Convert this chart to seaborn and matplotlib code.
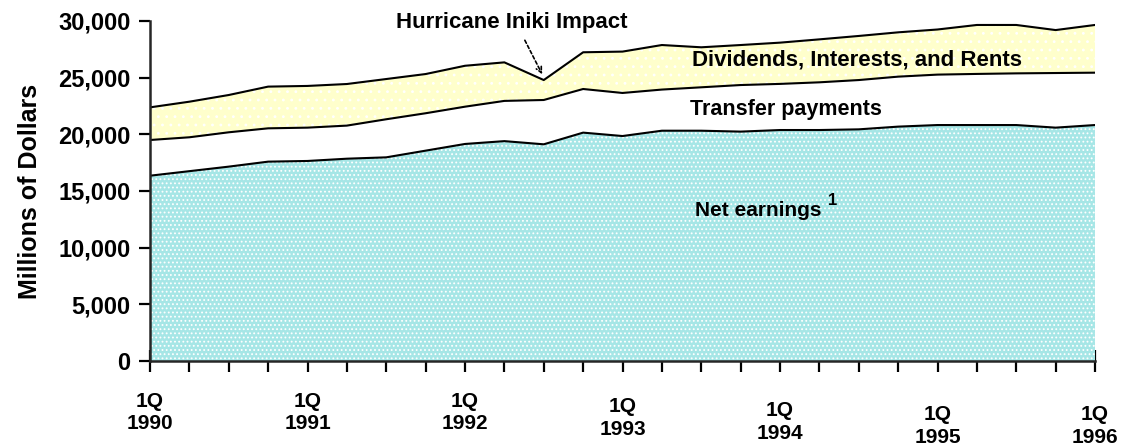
import pandas as pd
import matplotlib
matplotlib.use("Agg")
import matplotlib.pyplot as plt
import seaborn as sns

# --- Quarterly personal income components, 1Q1990 .. 1Q1996 (millions of dollars) ---
quarters = ["1Q90", "2Q90", "3Q90", "4Q90", "1Q91", "2Q91", "3Q91", "4Q91",
            "1Q92", "2Q92", "3Q92", "4Q92", "1Q93", "2Q93", "3Q93", "4Q93",
            "1Q94", "2Q94", "3Q94", "4Q94", "1Q95", "2Q95", "3Q95", "4Q95", "1Q96"]
net_earnings = [16350, 16750, 17150, 17590, 17650, 17850, 17970, 18560,
                19150, 19400, 19120, 20150, 19850, 20320, 20320, 20240,
                20380, 20380, 20440, 20680, 20820, 20820, 20820, 20590, 20820]
transfer_payments = [3150, 2990, 3030, 2940, 2940, 2920, 3360, 3300,
                     3290, 3550, 3910, 3850, 3800, 3630, 3830, 4110,
                     4070, 4210, 4350, 4410, 4450, 4510, 4560, 4820, 4620]
dividends = [2880, 3140, 3290, 3680, 3680, 3670, 3550, 3460,
             3610, 3400, 1760, 3240, 3650, 3930, 3530, 3530,
             3640, 3790, 3890, 3910, 3980, 4320, 4270, 3790, 4210]

year_labels = ["1Q\n1990", "1Q\n1991", "1Q\n1992", "1Q\n1993",
               "1Q\n1994", "1Q\n1995", "1Q\n1996"]
y_ticks = [0, 5000, 10000, 15000, 20000, 25000, 30000]

df = pd.DataFrame({"quarter": quarters, "net": net_earnings,
                   "transfer": transfer_payments, "dividends": dividends})
df["t"] = range(len(df))
df["net_top"] = df["net"]
df["transfer_top"] = df["net"] + df["transfer"]
df["total"] = df["transfer_top"] + df["dividends"]

sns.set_style("ticks")
plt.rcParams["font.family"] = ["Liberation Sans", "DejaVu Sans"]
plt.rcParams["font.weight"] = "bold"
plt.rcParams["text.color"] = "black"
plt.rcParams["axes.labelcolor"] = "black"
plt.rcParams["hatch.linewidth"] = 0.8

fig = plt.figure(figsize=(11.41, 4.47), dpi=100)
ax = fig.add_axes([150 / 1141, 1 - 361 / 447, 945 / 1141, 340 / 447])

CYAN = "#a6e6e6"
YELLOW = "#ffffcc"

# fills (white dotted pattern like the original)
ax.fill_between(df["t"], 0, df["net_top"], facecolor=CYAN, edgecolor="white",
                hatch="....", linewidth=0, zorder=1)
ax.fill_between(df["t"], df["transfer_top"], df["total"], facecolor=YELLOW,
                edgecolor="white", hatch="..", linewidth=0, zorder=1)

# boundary lines
for col in ["net_top", "transfer_top", "total"]:
    sns.lineplot(data=df, x="t", y=col, color="black", linewidth=1.5, ax=ax, zorder=3)

ax.set_xlim(0, len(df) - 1)
ax.set_ylim(0, 30000)
ax.set_xticks(df["t"])
ax.set_xticklabels([year_labels[i // 4] if i % 4 == 0 else "" for i in df["t"]],
                   fontsize=15, fontweight="bold", linespacing=1.25)
ax.set_yticks(y_ticks)
ax.set_yticklabels([f"{v:,}" for v in y_ticks], fontsize=17, fontweight="bold")
ax.tick_params(axis="x", direction="inout", length=16, width=1.6, pad=14,
               colors="black")
ax.tick_params(axis="y", direction="out", length=8, width=1.6, pad=6,
               colors="black")

# later year labels sit slightly lower in the original
for i, extra in zip([12, 16, 20, 24], [4, 7, 10, 10]):
    ax.xaxis.get_major_ticks()[i].set_pad(14 + extra)

ax.set_xlabel("")
ax.set_ylabel("Millions of Dollars", fontsize=18, fontweight="bold", labelpad=12)
sns.despine(ax=ax)
for s in ["left", "bottom"]:
    ax.spines[s].set_linewidth(1.8)
    ax.spines[s].set_zorder(4)

# series labels
ax.text(13.77, 26560, "Dividends, Interests, and Rents", fontsize=16,
        fontweight="bold", va="center", ha="left", zorder=5)
ax.text(13.71, 22150, "Transfer payments", fontsize=15.5,
        fontweight="bold", va="center", ha="left", zorder=5)
ax.text(13.84, 13320, "Net earnings", fontsize=15,
        fontweight="bold", va="center", ha="left", zorder=5)
ax.text(17.22, 14200, "1", fontsize=12, fontweight="bold", va="center",
        ha="left", zorder=5)

# hurricane annotation
ax.text(9.19, 29900, "Hurricane Iniki Impact", fontsize=16, fontweight="bold",
        ha="center", va="center", zorder=5, clip_on=False)
ax.annotate("", xy=(9.96, 25300), xytext=(9.52, 28300),
            arrowprops=dict(arrowstyle="->", linestyle=(0, (2, 1.5)), color="black",
                            linewidth=1.2, shrinkA=0, shrinkB=0), zorder=5)

fig.savefig("out.png", dpi=100)
